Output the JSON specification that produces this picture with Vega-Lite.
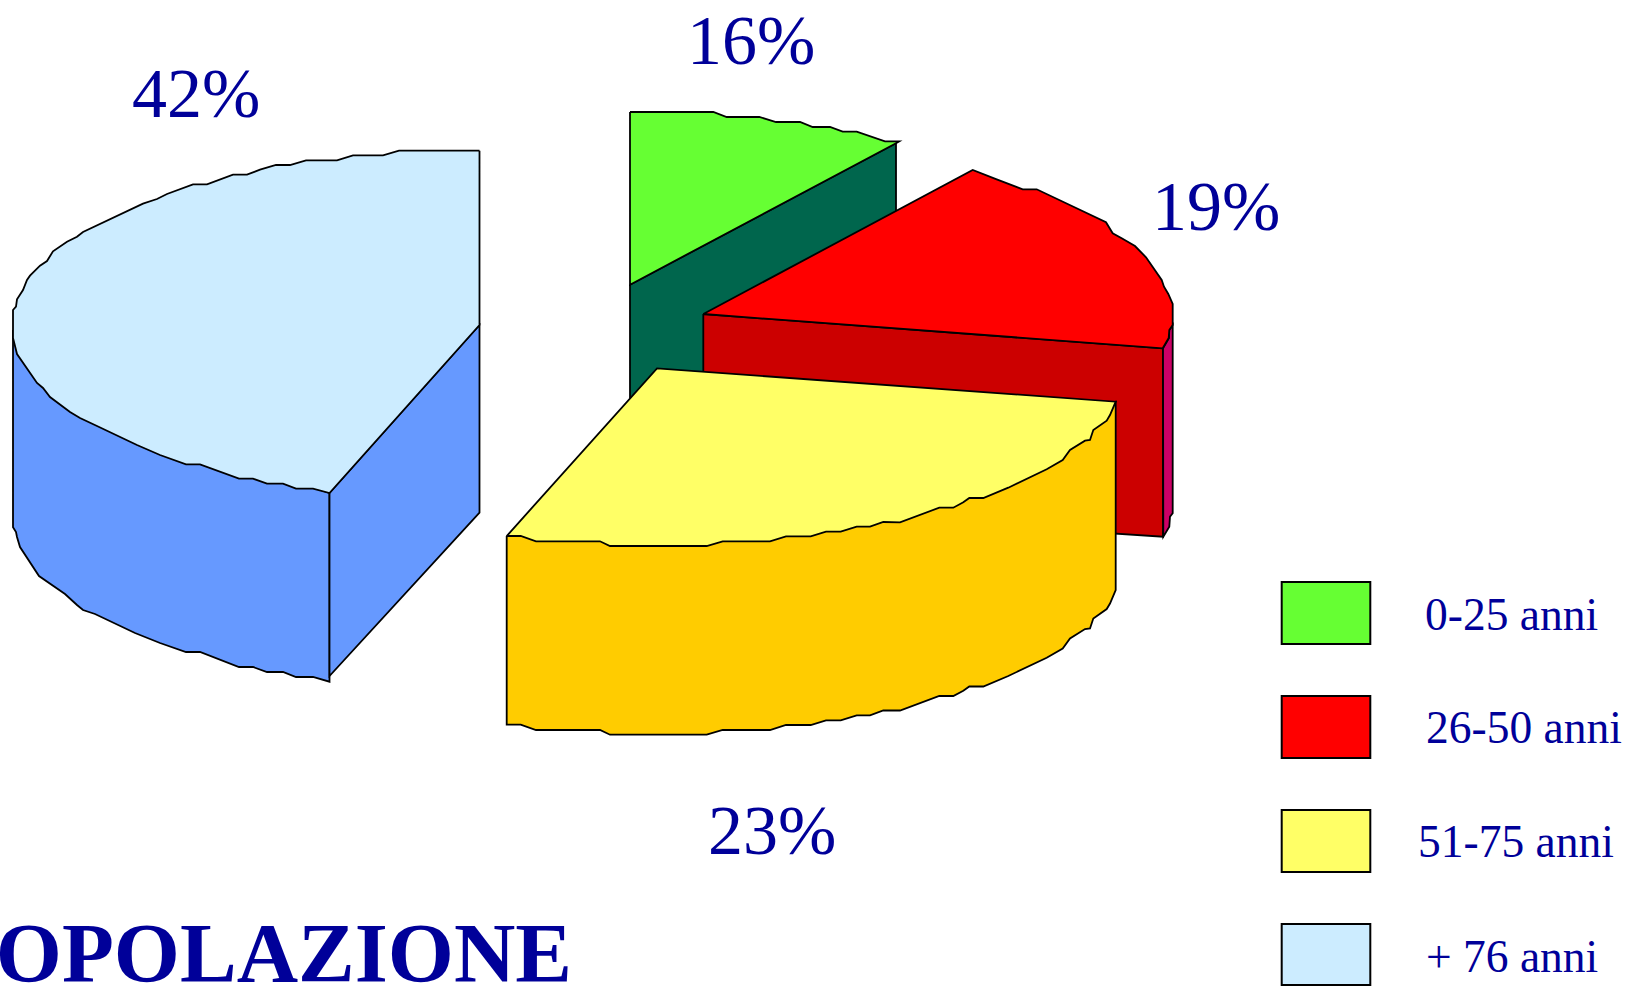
{"$schema":"https://vega.github.io/schema/vega-lite/v6.json","width":1627,"height":986,"autosize":"none","padding":0,"background":"white","view":{"stroke":null},
"datasets":{
"faces":[
{"face":"blu_side","i":0,"x":13,"y":330},{"face":"blu_side","i":1,"x":13,"y":527.3},{"face":"blu_side","i":2,"x":16,"y":532},{"face":"blu_side","i":3,"x":17,"y":537},{"face":"blu_side","i":4,"x":20,"y":547},{"face":"blu_side","i":5,"x":39,"y":576},{"face":"blu_side","i":6,"x":65,"y":594},{"face":"blu_side","i":7,"x":77,"y":605},{"face":"blu_side","i":8,"x":83,"y":610},{"face":"blu_side","i":9,"x":95,"y":614},{"face":"blu_side","i":10,"x":135,"y":633},{"face":"blu_side","i":11,"x":160,"y":643},{"face":"blu_side","i":12,"x":186,"y":652},{"face":"blu_side","i":13,"x":200,"y":652},{"face":"blu_side","i":14,"x":239,"y":667},{"face":"blu_side","i":15,"x":253,"y":667},{"face":"blu_side","i":16,"x":267,"y":672},{"face":"blu_side","i":17,"x":283,"y":672},{"face":"blu_side","i":18,"x":296,"y":677},{"face":"blu_side","i":19,"x":313,"y":677},{"face":"blu_side","i":20,"x":329.5,"y":681.7},{"face":"blu_side","i":21,"x":329.5,"y":493},{"face":"blu_side","i":22,"x":200,"y":450},{"face":"blu_side","i":23,"x":60,"y":380},{"face":"blu_side","i":24,"x":13,"y":330},
{"face":"blu_cut","i":0,"x":329.5,"y":493},{"face":"blu_cut","i":1,"x":329.5,"y":676},{"face":"blu_cut","i":2,"x":479.5,"y":512.7},{"face":"blu_cut","i":3,"x":479.5,"y":325},{"face":"blu_cut","i":4,"x":329.5,"y":493},
{"face":"blu_top","i":0,"x":479.5,"y":150.7},{"face":"blu_top","i":1,"x":399,"y":150.7},{"face":"blu_top","i":2,"x":383,"y":155.3},{"face":"blu_top","i":3,"x":353,"y":155.3},{"face":"blu_top","i":4,"x":337,"y":160.3},{"face":"blu_top","i":5,"x":306,"y":160.3},{"face":"blu_top","i":6,"x":290,"y":165},{"face":"blu_top","i":7,"x":276,"y":165},{"face":"blu_top","i":8,"x":260,"y":169.7},{"face":"blu_top","i":9,"x":247,"y":174.7},{"face":"blu_top","i":10,"x":233,"y":174.7},{"face":"blu_top","i":11,"x":207,"y":184.3},{"face":"blu_top","i":12,"x":193,"y":184.3},{"face":"blu_top","i":13,"x":167,"y":194},{"face":"blu_top","i":14,"x":157,"y":199},{"face":"blu_top","i":15,"x":143,"y":203.7},{"face":"blu_top","i":16,"x":83,"y":232},{"face":"blu_top","i":17,"x":77,"y":236.7},{"face":"blu_top","i":18,"x":67,"y":241.7},{"face":"blu_top","i":19,"x":53,"y":251.3},{"face":"blu_top","i":20,"x":47,"y":261},{"face":"blu_top","i":21,"x":40,"y":265.7},{"face":"blu_top","i":22,"x":30,"y":275.7},{"face":"blu_top","i":23,"x":27,"y":280},{"face":"blu_top","i":24,"x":23,"y":290},{"face":"blu_top","i":25,"x":17,"y":299.3},{"face":"blu_top","i":26,"x":16,"y":306.7},{"face":"blu_top","i":27,"x":13,"y":310},{"face":"blu_top","i":28,"x":13,"y":338},{"face":"blu_top","i":29,"x":17,"y":354},{"face":"blu_top","i":30,"x":37,"y":383},{"face":"blu_top","i":31,"x":43,"y":388},{"face":"blu_top","i":32,"x":50,"y":397},{"face":"blu_top","i":33,"x":70,"y":412},{"face":"blu_top","i":34,"x":80,"y":418},{"face":"blu_top","i":35,"x":97,"y":426},{"face":"blu_top","i":36,"x":137,"y":445},{"face":"blu_top","i":37,"x":160,"y":455},{"face":"blu_top","i":38,"x":186,"y":464.3},{"face":"blu_top","i":39,"x":200,"y":464.3},{"face":"blu_top","i":40,"x":239,"y":478.7},{"face":"blu_top","i":41,"x":253,"y":478.7},{"face":"blu_top","i":42,"x":267,"y":483.7},{"face":"blu_top","i":43,"x":283,"y":483.7},{"face":"blu_top","i":44,"x":296,"y":488.7},{"face":"blu_top","i":45,"x":313,"y":488.7},{"face":"blu_top","i":46,"x":329.5,"y":493},{"face":"blu_top","i":47,"x":479.5,"y":325},{"face":"blu_top","i":48,"x":479.5,"y":150.7},
{"face":"gre_side","i":0,"x":630,"y":284.7},{"face":"gre_side","i":1,"x":896,"y":143.3},{"face":"gre_side","i":2,"x":896,"y":300},{"face":"gre_side","i":3,"x":700,"y":400},{"face":"gre_side","i":4,"x":630,"y":398},{"face":"gre_side","i":5,"x":630,"y":284.7},
{"face":"gre_top","i":0,"x":630,"y":112},{"face":"gre_top","i":1,"x":713.3,"y":112},{"face":"gre_top","i":2,"x":726.7,"y":117},{"face":"gre_top","i":3,"x":759.3,"y":117},{"face":"gre_top","i":4,"x":776,"y":122},{"face":"gre_top","i":5,"x":800,"y":122},{"face":"gre_top","i":6,"x":812.7,"y":127},{"face":"gre_top","i":7,"x":830,"y":127},{"face":"gre_top","i":8,"x":842.7,"y":131.7},{"face":"gre_top","i":9,"x":856.7,"y":131.7},{"face":"gre_top","i":10,"x":885,"y":141.3},{"face":"gre_top","i":11,"x":899.3,"y":141.3},{"face":"gre_top","i":12,"x":896,"y":143.3},{"face":"gre_top","i":13,"x":630,"y":284.7},{"face":"gre_top","i":14,"x":630,"y":112},
{"face":"red_front","i":0,"x":703.3,"y":314},{"face":"red_front","i":1,"x":1163,"y":348.3},{"face":"red_front","i":2,"x":1163,"y":536.7},{"face":"red_front","i":3,"x":703.3,"y":507},{"face":"red_front","i":4,"x":703.3,"y":314},
{"face":"red_side","i":0,"x":1163,"y":348.3},{"face":"red_side","i":1,"x":1169,"y":338},{"face":"red_side","i":2,"x":1169.3,"y":330},{"face":"red_side","i":3,"x":1172.7,"y":325},{"face":"red_side","i":4,"x":1172.7,"y":513.3},{"face":"red_side","i":5,"x":1170,"y":516.7},{"face":"red_side","i":6,"x":1169.3,"y":526.7},{"face":"red_side","i":7,"x":1163.3,"y":536.7},{"face":"red_side","i":8,"x":1163,"y":348.3},
{"face":"red_top","i":0,"x":703.3,"y":314},{"face":"red_top","i":1,"x":972.7,"y":170},{"face":"red_top","i":2,"x":996.7,"y":179.3},{"face":"red_top","i":3,"x":1022.7,"y":189.3},{"face":"red_top","i":4,"x":1036.7,"y":189.3},{"face":"red_top","i":5,"x":1106,"y":222.3},{"face":"red_top","i":6,"x":1112.7,"y":233.3},{"face":"red_top","i":7,"x":1121.7,"y":238.3},{"face":"red_top","i":8,"x":1135,"y":246},{"face":"red_top","i":9,"x":1146,"y":257.3},{"face":"red_top","i":10,"x":1161.7,"y":280},{"face":"red_top","i":11,"x":1164,"y":286.7},{"face":"red_top","i":12,"x":1168.3,"y":294},{"face":"red_top","i":13,"x":1172.7,"y":304},{"face":"red_top","i":14,"x":1172.7,"y":325},{"face":"red_top","i":15,"x":1169.3,"y":330},{"face":"red_top","i":16,"x":1168.7,"y":338},{"face":"red_top","i":17,"x":1162.7,"y":348.3},{"face":"red_top","i":18,"x":703.3,"y":314},
{"face":"yel_side","i":0,"x":506.7,"y":536},{"face":"yel_side","i":1,"x":506.7,"y":724.7},{"face":"yel_side","i":2,"x":520.7,"y":724.7},{"face":"yel_side","i":3,"x":536,"y":730},{"face":"yel_side","i":4,"x":600,"y":730},{"face":"yel_side","i":5,"x":610,"y":734.7},{"face":"yel_side","i":6,"x":706.7,"y":734.7},{"face":"yel_side","i":7,"x":722.7,"y":730},{"face":"yel_side","i":8,"x":770,"y":730},{"face":"yel_side","i":9,"x":786,"y":725},{"face":"yel_side","i":10,"x":810.7,"y":725},{"face":"yel_side","i":11,"x":826,"y":720.3},{"face":"yel_side","i":12,"x":840.7,"y":720.3},{"face":"yel_side","i":13,"x":856.7,"y":715.3},{"face":"yel_side","i":14,"x":870,"y":715.3},{"face":"yel_side","i":15,"x":883.3,"y":710.5},{"face":"yel_side","i":16,"x":900,"y":710.5},{"face":"yel_side","i":17,"x":939.3,"y":696},{"face":"yel_side","i":18,"x":953.3,"y":696},{"face":"yel_side","i":19,"x":963.3,"y":690.7},{"face":"yel_side","i":20,"x":969.3,"y":686.5},{"face":"yel_side","i":21,"x":983.3,"y":686.5},{"face":"yel_side","i":22,"x":1008.3,"y":676},{"face":"yel_side","i":23,"x":1046.7,"y":657.7},{"face":"yel_side","i":24,"x":1062.7,"y":648.5},{"face":"yel_side","i":25,"x":1070,"y":638.5},{"face":"yel_side","i":26,"x":1085,"y":629},{"face":"yel_side","i":27,"x":1090,"y":628.5},{"face":"yel_side","i":28,"x":1093.3,"y":618.5},{"face":"yel_side","i":29,"x":1106.7,"y":609},{"face":"yel_side","i":30,"x":1110,"y":603.5},{"face":"yel_side","i":31,"x":1115.7,"y":590},{"face":"yel_side","i":32,"x":1115.7,"y":401.7},{"face":"yel_side","i":33,"x":900,"y":500},{"face":"yel_side","i":34,"x":520,"y":530},{"face":"yel_side","i":35,"x":506.7,"y":536},
{"face":"yel_top","i":0,"x":506.7,"y":536},{"face":"yel_top","i":1,"x":657,"y":368.4},{"face":"yel_top","i":2,"x":1115.7,"y":401.7},{"face":"yel_top","i":3,"x":1110,"y":415},{"face":"yel_top","i":4,"x":1106.7,"y":420.7},{"face":"yel_top","i":5,"x":1093.3,"y":430},{"face":"yel_top","i":6,"x":1090,"y":440},{"face":"yel_top","i":7,"x":1085,"y":440.7},{"face":"yel_top","i":8,"x":1070,"y":450},{"face":"yel_top","i":9,"x":1062.7,"y":460},{"face":"yel_top","i":10,"x":1046.7,"y":469.3},{"face":"yel_top","i":11,"x":1008.3,"y":487.7},{"face":"yel_top","i":12,"x":983.3,"y":498},{"face":"yel_top","i":13,"x":969.3,"y":498},{"face":"yel_top","i":14,"x":963.3,"y":502.3},{"face":"yel_top","i":15,"x":953.3,"y":507.7},{"face":"yel_top","i":16,"x":939.3,"y":507.7},{"face":"yel_top","i":17,"x":900,"y":522.3},{"face":"yel_top","i":18,"x":883.3,"y":522},{"face":"yel_top","i":19,"x":870,"y":526.7},{"face":"yel_top","i":20,"x":856.7,"y":526.7},{"face":"yel_top","i":21,"x":840.7,"y":531.7},{"face":"yel_top","i":22,"x":826,"y":531.7},{"face":"yel_top","i":23,"x":810.7,"y":536.3},{"face":"yel_top","i":24,"x":786,"y":536.3},{"face":"yel_top","i":25,"x":770,"y":541.3},{"face":"yel_top","i":26,"x":722.7,"y":541.3},{"face":"yel_top","i":27,"x":706.7,"y":546},{"face":"yel_top","i":28,"x":610,"y":546},{"face":"yel_top","i":29,"x":600,"y":541.3},{"face":"yel_top","i":30,"x":536,"y":541.3},{"face":"yel_top","i":31,"x":520.7,"y":536},{"face":"yel_top","i":32,"x":506.7,"y":536}
],
"legend":[
{"face":"gre_top","x":1281.7,"x2":1370.3,"y":582,"y2":644},
{"face":"red_top","x":1281.7,"x2":1370.3,"y":696,"y2":758},
{"face":"yel_top","x":1281.7,"x2":1370.3,"y":810,"y2":872},
{"face":"blu_top","x":1281.7,"x2":1370.3,"y":924,"y2":985}
],
"legendText":[
{"label":"0-25 anni","x":1425,"y":630},
{"label":"26-50 anni","x":1426,"y":743.3},
{"label":"51-75 anni","x":1418,"y":856.7},
{"label":"+ 76 anni","x":1426,"y":971.7}
],
"percent":[
{"label":"42%","x":132,"y":117},
{"label":"16%","x":687,"y":64},
{"label":"19%","x":1152,"y":230},
{"label":"23%","x":708,"y":854}
],
"title":[{"label":"OPOLAZIONE","x":572,"y":982}]
},
"encoding":{
"x":{"field":"x","type":"quantitative","scale":{"domain":[0,1627],"nice":false,"zero":false},"axis":null},
"y":{"field":"y","type":"quantitative","scale":{"domain":[986,0],"nice":false,"zero":false},"axis":null}
},
"layer":[
{"data":{"name":"faces"},"mark":{"type":"line","stroke":"black","strokeWidth":1.8,"strokeJoin":"miter","clip":true},
"encoding":{"order":{"field":"i","type":"quantitative"},"fill":{"field":"face","type":"nominal","legend":null,"scale":{"domain":["blu_side","blu_cut","blu_top","gre_side","gre_top","red_front","red_side","red_top","yel_side","yel_top"],"range":["#6699ff","#6699ff","#ccecff","#00664d","#66ff33","#cc0000","#cc0066","#ff0000","#ffcc00","#ffff66"]}}}},
{"data":{"name":"legend"},"mark":{"type":"rect","stroke":"black","strokeWidth":2},
"encoding":{"x2":{"field":"x2"},"y2":{"field":"y2"},"fill":{"field":"face","type":"nominal","legend":null}}},
{"data":{"name":"legendText"},"mark":{"type":"text","font":"Liberation Serif","fontSize":45.5,"color":"#000099","align":"left","baseline":"alphabetic"},
"encoding":{"text":{"field":"label"}}},
{"data":{"name":"percent"},"mark":{"type":"text","font":"Liberation Serif","fontSize":70,"color":"#000099","align":"left","baseline":"alphabetic"},
"encoding":{"text":{"field":"label"}}},
{"data":{"name":"title"},"mark":{"type":"text","font":"Liberation Serif","fontSize":85,"fontWeight":"bold","color":"#000099","align":"right","baseline":"alphabetic","clip":true},
"encoding":{"text":{"field":"label"}}}
]}
